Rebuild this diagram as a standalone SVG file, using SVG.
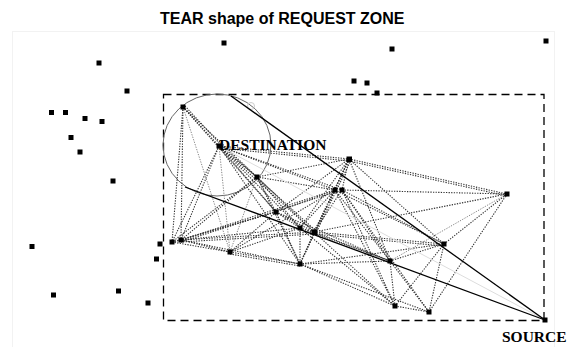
<svg xmlns="http://www.w3.org/2000/svg" width="570" height="347" viewBox="0 0 570 347">
<style>
.nd{fill:#000}
.e{stroke:#333;stroke-width:1.1;stroke-dasharray:1.3 1.3;fill:none}
.e2{stroke:#888;stroke-width:1;stroke-dasharray:1.3 1.3;fill:none}
.t{stroke:#000;stroke-width:1.3;fill:none}
.lbl{font-family:"Liberation Serif","Times New Roman",serif;font-weight:bold;font-size:15.5px;fill:#000}
.title{font-family:"Liberation Sans",Arial,sans-serif;font-weight:bold;font-size:16px;fill:#000}
</style>
<rect width="570" height="347" fill="#fff"/>
<rect x="12.5" y="31.5" width="542" height="330" fill="none" stroke="#f2f2f2" stroke-width="1"/>
<text class="title" x="160" y="23.5">TEAR shape of REQUEST ZONE</text>
<g id="zone">
<rect x="163.5" y="94.5" width="380.5" height="226" fill="none" stroke="#000" stroke-width="1.3" stroke-dasharray="8 5"/>
<ellipse cx="217" cy="145" rx="54" ry="51" fill="none" stroke="#666" stroke-width="1"/>
<circle cx="251" cy="106" r="3.5" fill="none" stroke="#ccc" stroke-width="1"/>
</g>
<g id="connectors">
<line class="e" x1="183" y1="107" x2="219" y2="146"/>
<line class="e" x1="185" y1="106" x2="221" y2="145"/>
<line class="e" x1="183" y1="107" x2="257" y2="177"/>
<line class="e" x1="183" y1="107" x2="276" y2="212"/>
<line class="e" x1="183" y1="107" x2="172" y2="242"/>
<line class="e" x1="183" y1="107" x2="181" y2="240"/>
<line class="e2" x1="183" y1="107" x2="230" y2="252"/>
<line class="e" x1="219" y1="146" x2="257" y2="177"/>
<line class="e" x1="219" y1="146" x2="349" y2="159"/>
<line class="e" x1="219" y1="148" x2="349" y2="161"/>
<line class="e" x1="219" y1="146" x2="335" y2="190"/>
<line class="e" x1="219" y1="146" x2="342" y2="190"/>
<line class="e" x1="219" y1="146" x2="276" y2="212"/>
<line class="e" x1="219" y1="146" x2="300" y2="228"/>
<line class="e" x1="219" y1="146" x2="314" y2="232"/>
<line class="e" x1="221" y1="145" x2="316" y2="231"/>
<line class="e" x1="219" y1="146" x2="172" y2="242"/>
<line class="e" x1="219" y1="146" x2="181" y2="240"/>
<line class="e2" x1="219" y1="146" x2="230" y2="252"/>
<line class="e" x1="219" y1="146" x2="300" y2="264"/>
<line class="e" x1="257" y1="177" x2="349" y2="159"/>
<line class="e" x1="257" y1="177" x2="335" y2="190"/>
<line class="e" x1="257" y1="177" x2="276" y2="212"/>
<line class="e" x1="257" y1="177" x2="300" y2="228"/>
<line class="e" x1="257" y1="177" x2="314" y2="232"/>
<line class="e" x1="257" y1="177" x2="172" y2="242"/>
<line class="e" x1="257" y1="177" x2="181" y2="240"/>
<line class="e2" x1="257" y1="177" x2="230" y2="252"/>
<line class="e" x1="257" y1="177" x2="300" y2="264"/>
<line class="e" x1="349" y1="159" x2="335" y2="190"/>
<line class="e" x1="349" y1="159" x2="342" y2="190"/>
<line class="e" x1="349" y1="159" x2="276" y2="212"/>
<line class="e" x1="349" y1="159" x2="300" y2="228"/>
<line class="e" x1="349" y1="159" x2="314" y2="232"/>
<line class="e" x1="351" y1="160" x2="316" y2="233"/>
<line class="e" x1="349" y1="159" x2="300" y2="264"/>
<line class="e" x1="349" y1="159" x2="390" y2="261"/>
<line class="e" x1="349" y1="159" x2="444" y2="244"/>
<line class="e" x1="349" y1="159" x2="507" y2="194"/>
<line class="e" x1="349" y1="161" x2="507" y2="196"/>
<line class="e" x1="335" y1="190" x2="276" y2="212"/>
<line class="e" x1="335" y1="190" x2="300" y2="228"/>
<line class="e" x1="335" y1="190" x2="314" y2="232"/>
<line class="e" x1="335" y1="190" x2="230" y2="252"/>
<line class="e" x1="335" y1="190" x2="300" y2="264"/>
<line class="e" x1="335" y1="190" x2="390" y2="261"/>
<line class="e" x1="335" y1="190" x2="444" y2="244"/>
<line class="e" x1="335" y1="190" x2="395" y2="306"/>
<line class="e" x1="335" y1="190" x2="181" y2="240"/>
<line class="e" x1="335" y1="192" x2="181" y2="242"/>
<line class="e" x1="342" y1="190" x2="314" y2="232"/>
<line class="e" x1="342" y1="190" x2="390" y2="261"/>
<line class="e" x1="342" y1="190" x2="444" y2="244"/>
<line class="e" x1="342" y1="190" x2="507" y2="194"/>
<line class="e" x1="342" y1="190" x2="395" y2="306"/>
<line class="e" x1="342" y1="190" x2="429" y2="312"/>
<line class="e" x1="276" y1="212" x2="300" y2="228"/>
<line class="e" x1="276" y1="212" x2="314" y2="232"/>
<line class="e" x1="276" y1="212" x2="172" y2="242"/>
<line class="e" x1="276" y1="212" x2="181" y2="240"/>
<line class="e" x1="276" y1="212" x2="230" y2="252"/>
<line class="e" x1="276" y1="212" x2="300" y2="264"/>
<line class="e" x1="276" y1="212" x2="390" y2="261"/>
<line class="e" x1="300" y1="228" x2="314" y2="232"/>
<line class="e" x1="300" y1="228" x2="181" y2="240"/>
<line class="e" x1="300" y1="228" x2="230" y2="252"/>
<line class="e" x1="300" y1="228" x2="300" y2="264"/>
<line class="e" x1="300" y1="228" x2="390" y2="261"/>
<line class="e" x1="300" y1="228" x2="395" y2="306"/>
<line class="e" x1="314" y1="232" x2="181" y2="240"/>
<line class="e" x1="314" y1="234" x2="181" y2="242"/>
<line class="e" x1="314" y1="232" x2="300" y2="264"/>
<line class="e" x1="314" y1="232" x2="390" y2="261"/>
<line class="e" x1="314" y1="232" x2="444" y2="244"/>
<line class="e" x1="314" y1="234" x2="444" y2="246"/>
<line class="e" x1="314" y1="232" x2="395" y2="306"/>
<line class="e" x1="314" y1="232" x2="507" y2="194"/>
<line class="e" x1="172" y1="242" x2="181" y2="240"/>
<line class="e" x1="172" y1="242" x2="230" y2="252"/>
<line class="e" x1="181" y1="240" x2="230" y2="252"/>
<line class="e" x1="181" y1="240" x2="300" y2="264"/>
<line class="e" x1="230" y1="252" x2="300" y2="264"/>
<line class="e" x1="230" y1="254" x2="300" y2="266"/>
<line class="e" x1="300" y1="264" x2="390" y2="261"/>
<line class="e" x1="300" y1="264" x2="395" y2="306"/>
<line class="e" x1="300" y1="264" x2="429" y2="312"/>
<line class="e" x1="300" y1="264" x2="444" y2="244"/>
<line class="e" x1="390" y1="261" x2="444" y2="244"/>
<line class="e2" x1="390" y1="261" x2="507" y2="194"/>
<line class="e" x1="390" y1="261" x2="395" y2="306"/>
<line class="e" x1="390" y1="261" x2="429" y2="312"/>
<line class="e" x1="444" y1="244" x2="507" y2="194"/>
<line class="e" x1="444" y1="244" x2="395" y2="306"/>
<line class="e" x1="444" y1="244" x2="429" y2="312"/>
<line class="e" x1="507" y1="194" x2="429" y2="312"/>
<line class="e" x1="395" y1="306" x2="429" y2="312"/>
<line x1="219" y1="146" x2="545" y2="320" stroke="#ddd" stroke-width="1"/>
<line class="t" x1="231" y1="96" x2="545" y2="320"/>
<line class="t" x1="185" y1="187" x2="545" y2="320"/>
</g>
<g id="n1"><rect class="nd" x="180.5" y="104.5" width="5" height="5"/></g>
<g id="n2"><rect class="nd" x="216.5" y="143.5" width="5" height="5"/></g>
<g id="n3"><rect class="nd" x="254.5" y="174.5" width="5" height="5"/></g>
<g id="n4"><rect class="nd" x="346.5" y="156.5" width="5.5" height="5.5"/></g>
<g id="n5"><rect class="nd" x="332.5" y="187.5" width="5" height="5"/></g>
<g id="n6"><rect class="nd" x="339.5" y="187.5" width="5" height="5"/></g>
<g id="n7"><rect class="nd" x="273.5" y="209.5" width="5" height="5"/></g>
<g id="n8"><rect class="nd" x="297.5" y="225.5" width="5" height="5"/></g>
<g id="n9"><rect class="nd" x="311.5" y="229.5" width="5.5" height="5.5"/></g>
<g id="n10"><rect class="nd" x="169.5" y="239.5" width="5" height="5"/></g>
<g id="n11"><rect class="nd" x="178.5" y="237.5" width="5" height="5"/></g>
<g id="n12"><rect class="nd" x="227.5" y="249.5" width="5" height="5"/></g>
<g id="n13"><rect class="nd" x="297.5" y="261.5" width="5" height="5"/></g>
<g id="n14"><rect class="nd" x="387.5" y="258.5" width="5" height="5"/></g>
<g id="n15"><rect class="nd" x="441.5" y="241.5" width="5" height="5"/></g>
<g id="n16"><rect class="nd" x="504.5" y="191.5" width="5" height="5"/></g>
<g id="n17"><rect class="nd" x="392.5" y="303.5" width="5" height="5"/></g>
<g id="n18"><rect class="nd" x="426.5" y="309.5" width="5" height="5"/></g>
<g id="n19"><rect class="nd" x="542.5" y="317.5" width="5" height="5"/></g>
<g id="o1"><rect class="nd" x="221.5" y="40.5" width="5" height="5"/></g>
<g id="o2"><rect class="nd" x="389.5" y="46.5" width="5" height="5"/></g>
<g id="o3"><rect class="nd" x="543.5" y="38.5" width="5" height="5"/></g>
<g id="o4"><rect class="nd" x="96.5" y="60.5" width="5" height="5"/></g>
<g id="o5"><rect class="nd" x="124.5" y="88.5" width="5" height="5"/></g>
<g id="o6"><rect class="nd" x="351.5" y="78.5" width="5" height="5"/></g>
<g id="o7"><rect class="nd" x="364.5" y="80.5" width="5" height="5"/></g>
<g id="o8"><rect class="nd" x="374.5" y="90.5" width="5" height="5"/></g>
<g id="o9"><rect class="nd" x="49" y="110" width="5" height="5"/></g>
<g id="o10"><rect class="nd" x="63" y="110" width="5" height="5"/></g>
<g id="o11"><rect class="nd" x="82.5" y="116" width="5" height="5"/></g>
<g id="o12"><rect class="nd" x="99.5" y="119" width="5" height="5"/></g>
<g id="o13"><rect class="nd" x="68.5" y="135" width="5" height="5"/></g>
<g id="o14"><rect class="nd" x="77.5" y="149.5" width="5" height="5"/></g>
<g id="o15"><rect class="nd" x="110.5" y="178.5" width="5" height="5"/></g>
<g id="o16"><rect class="nd" x="29.5" y="244" width="5" height="5"/></g>
<g id="o17"><rect class="nd" x="157.5" y="241.5" width="5" height="5"/></g>
<g id="o18"><rect class="nd" x="154" y="256.5" width="5" height="5"/></g>
<g id="o19"><rect class="nd" x="51" y="292.5" width="5" height="5"/></g>
<g id="o20"><rect class="nd" x="116" y="288.5" width="5" height="5"/></g>
<g id="o21"><rect class="nd" x="145.5" y="300.5" width="5" height="5"/></g>
<text class="lbl" x="219" y="150">DESTINATION</text>
<text class="lbl" x="502" y="342">SOURCE</text>
</svg>
